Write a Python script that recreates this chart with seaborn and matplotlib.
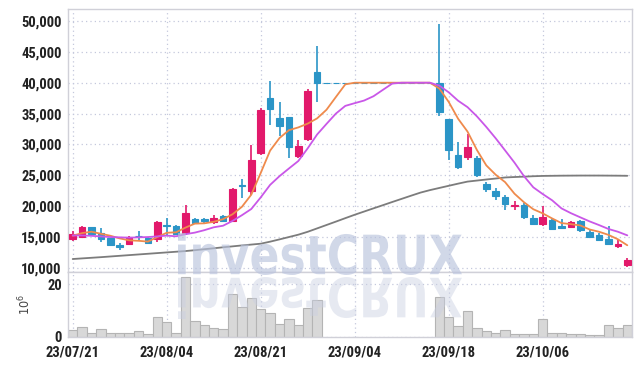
import matplotlib
matplotlib.use("Agg")
import numpy as np
import pandas as pd
import matplotlib.pyplot as plt
import seaborn as sb
from matplotlib.ticker import FuncFormatter
from matplotlib.textpath import TextPath
from matplotlib.patches import PathPatch
from matplotlib.font_manager import FontProperties
from matplotlib.transforms import Affine2D

# trading days, ticks every 10 sessions
tick_pos = [0, 10, 20, 30, 40, 50]
tick_labels = ["23/07/21", "23/08/04", "23/08/21", "23/09/04", "23/09/18", "23/10/06"]

halt = [40000] * 12  # sessions with no trading

opens = [14680, 14940, 16620, 15640, 14840, 13750, 13910, 15150, 14840, 14680,
         16900, 16720, 15640, 17910, 17960, 17360, 18340, 17530, 23350, 22380,
         28690, 37590, 34300, 34470, 28150, 30910, 41700] + halt + [
         40000, 34140, 28320, 28040, 27780, 23620, 22490, 21470, 20100, 20230,
         18070, 17100, 17800, 16720, 16620, 17530, 15750, 15370, 14680, 13480, 10410]
highs = [15910, 16720, 16700, 16460, 14900, 14030, 15210, 15910, 14950, 17530,
         18070, 16900, 20230, 18150, 18150, 18600, 18600, 22900, 24390, 29890,
         35870, 40240, 36840, 34470, 30740, 38900, 45950] + halt + [
         49510, 34140, 30470, 31670, 28100, 23900, 22930, 21840, 20760, 20500,
         18500, 19950, 17900, 17900, 17530, 17700, 16100, 15600, 16720, 14680, 11610]
lows = [14290, 14840, 15400, 14190, 13480, 12830, 13640, 14560, 13950, 14130,
        15210, 15300, 15370, 17100, 17300, 17100, 17400, 17400, 21310, 21840,
        28320, 33170, 31440, 27780, 27780, 30600, 36840] + halt + [
        34680, 27510, 26050, 27510, 24800, 22280, 21040, 19420, 19420, 18000,
        17000, 16830, 16200, 16450, 16450, 15800, 14800, 14300, 13750, 13210, 10080]
closes = [15530, 16620, 15480, 14680, 13750, 13380, 15050, 15100, 14030, 17430,
          16830, 15480, 18880, 17270, 17640, 18070, 17640, 22820, 23300, 27510,
          35600, 35760, 33010, 29660, 29770, 38670, 40000] + halt + [
          35320, 29130, 26380, 29610, 25080, 22820, 21570, 20390, 20230, 18230,
          17100, 18230, 16290, 16450, 17360, 16070, 14940, 14460, 13910, 13800, 11220]

# volume in millions of shares
volume = [2.5, 3.7, 1.4, 2.9, 1.4, 1.4, 1.4, 2.2, 1.0, 7.5,
          5.6, 1.4, 22.8, 6.0, 4.5, 3.3, 2.9, 16.3, 11.3, 14.6,
          10.6, 9.0, 5.0, 6.8, 4.6, 11.0, 14.0] + [0] * 12 + [
          15.2, 7.5, 4.1, 9.9, 3.3, 2.2, 1.5, 2.5, 1.1, 1.1,
          1.1, 6.8, 1.5, 1.5, 1.1, 1.1, 0.8, 0.8, 4.6, 3.4, 4.6]

# moving averages
ma5 = [15210, 15640, 15860, 15530, 15212, 14782, 14468, 14392, 14262, 14998,
       15688, 15774, 16530, 17178, 17220, 17468, 17900, 18688, 19894, 21868,
       25374, 28998, 31036, 32308, 32760, 33374, 34222, 35620, 37688, 39734,
       40000, 40000, 40000, 40000, 40000, 40000, 40000, 40000, 40000, 39064,
       36890, 34166, 32088, 29104, 26604, 25092, 23894, 22018, 20648, 19504,
       18836, 18016, 17260, 17086, 16880, 16222, 15856, 15348, 14636, 13666]
ma10 = [15260, 15250, 15200, 15100, 15000, 14950, 14900, 14950, 15000, 15105,
        15235, 15121, 15461, 15720, 16109, 16578, 16837, 17609, 18536, 19544,
        21421, 23449, 24862, 26101, 27314, 29374, 31610, 33328, 34998, 36247,
        36687, 37111, 37810, 38844, 39867, 40000, 40000, 40000, 40000, 39532,
        38445, 37083, 36044, 34552, 32834, 30991, 29030, 27053, 24876, 23054,
        21964, 20955, 19639, 18867, 18192, 17529, 16936, 16304, 15861, 15273]
ma60 = [11440, 11540, 11640, 11740, 11850, 11960, 12070, 12180, 12290, 12400,
        12510, 12620, 12730, 12870, 13030, 13180, 13340, 13490, 13640, 13780,
        13920, 14250, 14620, 15000, 15380, 15850, 16400, 16950, 17500, 18060,
        18610, 19130, 19650, 20160, 20680, 21190, 21700, 22200, 22600, 22950,
        23300, 23650, 23980, 24150, 24320, 24480, 24650, 24720, 24780, 24850,
        24900, 24920, 24940, 24950, 24960, 24960, 24960, 24950, 24940, 24920]

RED = "#e2196b"
BLUE = "#2b95c7"
GRID = "#c4c8dc"
SPINE = "#d0d0d8"

sb.set_style("white")
plt.rcParams["font.family"] = ["Roboto Condensed", "Liberation Sans Narrow", "DejaVu Sans"]
plt.rcParams["font.stretch"] = "condensed"
plt.rcParams["mathtext.fontset"] = "dejavusans"

fig = plt.figure(figsize=(6.42, 3.66), dpi=100)
ax = fig.add_axes([68 / 642, 94 / 366, 564 / 642, 263 / 366])
axv = fig.add_axes([68 / 642, 29 / 366, 564 / 642, 65 / 366], sharex=ax)

df = pd.DataFrame({"day": np.arange(len(closes)), "open": opens, "high": highs,
                   "low": lows, "close": closes, "volume": volume,
                   "ma5": ma5, "ma10": ma10, "ma60": ma60})
colors = [RED if c > o else BLUE for o, c in zip(df["open"], df["close"])]

# candles
ax.vlines(df["day"], df["low"], df["high"], colors=colors, linewidth=1.2, zorder=2)
body_bottom = np.minimum(df["open"], df["close"])
body_height = np.abs(df["close"] - df["open"])
ax.bar(df["day"], body_height, bottom=body_bottom, width=0.72, color=colors,
       edgecolor=colors, linewidth=0.8, zorder=3)

sb.lineplot(data=df, x="day", y="ma60", ax=ax, color="#7c7c7c", linewidth=1.3, zorder=4)
sb.lineplot(data=df, x="day", y="ma5", ax=ax, color="#ef8a4c", linewidth=1.3, zorder=5)
sb.lineplot(data=df, x="day", y="ma10", ax=ax, color="#c957e8", linewidth=1.3, zorder=6)

# volume
traded = df[df["volume"] > 0]
sb.barplot(data=traded, x="day", y="volume", ax=axv, native_scale=True, width=1.0,
           color="#d8d8d8", edgecolor="#b4b4b4", linewidth=0.8, errorbar=None,
           saturation=1, zorder=2)

ax.set_xlim(-0.5, 59.5)
ax.set_ylim(9337, 51940)
ax.set_yticks(range(10000, 50001, 5000))
ax.yaxis.set_major_formatter(FuncFormatter(lambda v, p: f"{int(v):,}"))
axv.set_ylim(0, 24.6)
axv.set_yticks([0, 20])
axv.set_xticks(tick_pos)
axv.set_xticklabels(tick_labels)
axv.set_xlabel("")
ax.set_xlabel("")
ax.set_ylabel("")
axv.set_ylabel("$10^6$", fontsize=9, color="#444444", labelpad=10,
               family="DejaVu Sans", fontstretch="normal")
plt.setp(ax.get_xticklabels(), visible=False)

for a in (ax, axv):
    a.grid(True, linestyle=(0, (1, 2.5)), color=GRID, linewidth=0.9)
    a.set_axisbelow(True)
    for s in a.spines.values():
        s.set_color(SPINE)
        s.set_linewidth(1.0)
    a.tick_params(axis="y", length=3, width=0.8, color=SPINE, pad=1.5,
                  labelsize=10.5, labelcolor="#222222")
    a.tick_params(axis="x", length=0, pad=6, labelsize=10.5, labelcolor="#222222")
for lab in ax.get_yticklabels() + axv.get_yticklabels() + axv.get_xticklabels():
    lab.set_fontweight("bold")

# watermark with reflection
tp = TextPath((0, 0), "investCRUX", size=10,
              prop=FontProperties(family="DejaVu Sans", weight="bold", stretch="normal"))
ext = tp.get_extents()
sx = (462 - 178) / ext.width
sy = (275 - 233) / ext.height
H = 366
main_tr = Affine2D().translate(-ext.x0, -ext.y0).scale(sx, sy).translate(178, H - 275)
refl_tr = Affine2D().translate(-ext.x0, -ext.y0).scale(sx, -sy).translate(178, H - 277)
fig.add_artist(PathPatch(main_tr.transform_path(tp), transform=None,
                         facecolor="#b9c3dd", edgecolor="none", alpha=0.65, zorder=10))
fig.add_artist(PathPatch(refl_tr.transform_path(tp), transform=None,
                         facecolor="#c9cfe2", edgecolor="none", alpha=0.45, zorder=10))

fig.savefig("out.png", dpi=100)
